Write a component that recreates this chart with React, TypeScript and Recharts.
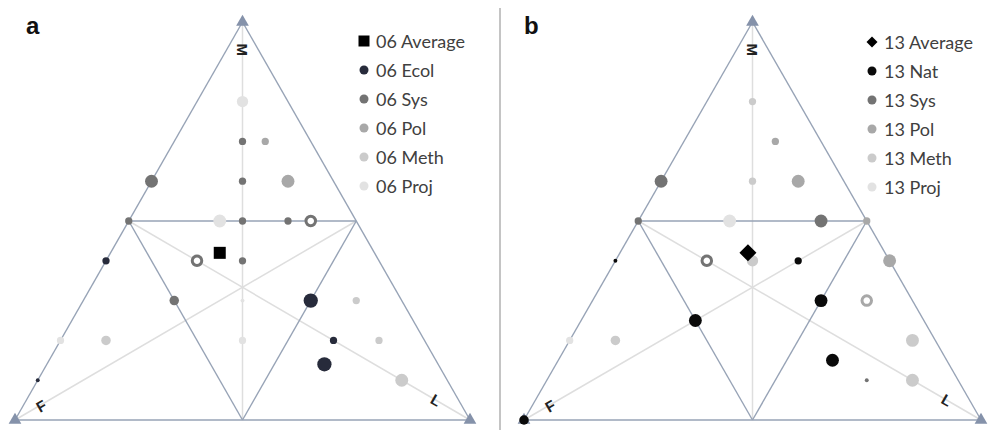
import React from 'react';
import {
  ScatterChart,
  Scatter,
  XAxis,
  YAxis,
  ZAxis,
  ReferenceLine,
  ReferenceDot,
  Legend,
} from 'recharts';

// ternary points: m = M share, l = L share (F = 1 - m - l), n = bubble size class
type Pt = { m: number; l: number; n: number };

// panel a (2006)
const avgA: Pt[] = [{ m: 0.42, l: 0.24, n: 1 }];
const ecolA: Pt[] = [
  { m: 0.4, l: 0, n: 2 },
  { m: 0.3, l: 0.5, n: 6 },
  { m: 0.2, l: 0.6, n: 2 },
  { m: 0.14, l: 0.61, n: 6 },
  { m: 0.1, l: 0, n: 1 },
];
const sysA: Pt[] = [
  { m: 0.6, l: 0, n: 5 },
  { m: 0.7, l: 0.15, n: 2 },
  { m: 0.6, l: 0.2, n: 2 },
  { m: 0.5, l: 0, n: 2 },
  { m: 0.5, l: 0.25, n: 2 },
  { m: 0.5, l: 0.35, n: 2 },
  { m: 0.4, l: 0.3, n: 2 },
  { m: 0.3, l: 0.2, n: 3 },
];
const sysRingA: Pt[] = [
  { m: 0.5, l: 0.4, n: 3 },
  { m: 0.4, l: 0.2, n: 3 },
];
const polA: Pt[] = [
  { m: 0.7, l: 0.2, n: 2 },
  { m: 0.6, l: 0.3, n: 5 },
];
const methA: Pt[] = [
  { m: 0.3, l: 0.6, n: 2 },
  { m: 0.2, l: 0.1, n: 3 },
  { m: 0.2, l: 0.7, n: 2 },
  { m: 0.1, l: 0.8, n: 5 },
];
const projA: Pt[] = [
  { m: 0.8, l: 0.1, n: 4 },
  { m: 0.5, l: 0.2, n: 5 },
  { m: 0.3, l: 0.35, n: 1 },
  { m: 0.2, l: 0, n: 2 },
  { m: 0.2, l: 0.4, n: 2 },
];

// panel b (2013)
const avgB: Pt[] = [{ m: 0.42, l: 0.28, n: 1 }];
const natB: Pt[] = [
  { m: 0.4, l: 0.4, n: 2 },
  { m: 0.4, l: 0, n: 1 },
  { m: 0.3, l: 0.5, n: 5 },
  { m: 0.25, l: 0.25, n: 5 },
  { m: 0.15, l: 0.6, n: 5 },
  { m: 0, l: 0, n: 3 },
];
const sysB: Pt[] = [
  { m: 0.6, l: 0, n: 5 },
  { m: 0.5, l: 0, n: 2 },
  { m: 0.5, l: 0.4, n: 5 },
  { m: 0.1, l: 0.7, n: 1 },
];
const sysRingB: Pt[] = [{ m: 0.4, l: 0.2, n: 3 }];
const polB: Pt[] = [
  { m: 0.7, l: 0.2, n: 2 },
  { m: 0.6, l: 0.3, n: 5 },
  { m: 0.5, l: 0.5, n: 2 },
  { m: 0.4, l: 0.6, n: 5 },
];
const polRingB: Pt[] = [{ m: 0.3, l: 0.6, n: 3 }];
const methB: Pt[] = [
  { m: 0.8, l: 0.1, n: 2 },
  { m: 0.6, l: 0.2, n: 2 },
  { m: 0.4, l: 0.3, n: 4 },
  { m: 0.2, l: 0.1, n: 3 },
  { m: 0.2, l: 0.75, n: 5 },
  { m: 0.1, l: 0.8, n: 5 },
];
const projB: Pt[] = [
  { m: 0.5, l: 0.2, n: 5 },
  { m: 0.2, l: 0, n: 2 },
];

// triangle frame (ternary corners and edge midpoints)
const corners: Pt[] = [
  { m: 1, l: 0, n: 1 },
  { m: 0, l: 0, n: 1 },
  { m: 0, l: 1, n: 1 },
];
const mids: Pt[] = [
  { m: 0.5, l: 0, n: 1 }, // M-F
  { m: 0.5, l: 0.5, n: 1 }, // M-L
  { m: 0, l: 0.5, n: 1 }, // F-L
];
const cornerLabels = [
  { text: 'M', m: 0.93, l: 0.035, rot: 90 },
  { text: 'F', m: 0.035, l: 0.04, rot: -30 },
  { text: 'L', m: 0.05, l: 0.9, rot: 30 },
];

const C = {
  ecol: '#272b3b',
  nat: '#0a0a0a',
  sys: '#737373',
  pol: '#a8a8a8',
  meth: '#cbcbcb',
  proj: '#e2e2e2',
  frame: '#97a3b6',
  median: '#dedede',
};

const xy = (pts: Pt[]) => pts.map((p) => ({ x: p.l + p.m / 2, y: p.m, n: p.n }));
const pos = (p: { m: number; l: number }) => ({ x: p.l + p.m / 2, y: p.m });

const VertexLabel = (props: any) => {
  const { viewBox, text, rot } = props;
  const cx = viewBox.x + viewBox.width / 2;
  const cy = viewBox.y + viewBox.height / 2;
  return (
    <g transform={`translate(${cx}, ${cy}) rotate(${rot})`}>
      <text
        x={0}
        y={0}
        textAnchor="middle"
        dominantBaseline="central"
        fontFamily="Liberation Sans, Arial, sans-serif"
        fontWeight="bold"
        fontSize={15}
        fill="#222"
      >
        {text}
      </text>
    </g>
  );
};

// average marker: square, or the same square turned 45 degrees
const avgShape = (kind: 'square' | 'diamond') => (props: any) => {
  const { cx, cy } = props;
  const s = 12;
  return (
    <rect
      x={cx - s / 2}
      y={cy - s / 2}
      width={s}
      height={s}
      fill="#000"
      transform={kind === 'diamond' ? `rotate(45, ${cx}, ${cy})` : undefined}
    />
  );
};

type LegendItem = { name: string; color: string; shape: 'square' | 'circle' | 'diamond' };

const LegendBox = ({ items }: { items: LegendItem[] }) => (
  <div style={{ fontFamily: 'Lato, sans-serif', fontSize: 18, color: '#404040' }}>
    {items.map((it) => (
      <div key={it.name} style={{ display: 'flex', alignItems: 'center', height: 29 }}>
        <svg width={12} height={12} style={{ marginRight: 6 }}>
          {it.shape === 'square' && <rect x={0.5} y={0.5} width={11} height={11} fill={it.color} />}
          {it.shape === 'circle' && <circle cx={6} cy={6} r={4.5} fill={it.color} />}
          {it.shape === 'diamond' && <path d="M6 0.5 L11.5 6 L6 11.5 L0.5 6 Z" fill={it.color} />}
        </svg>
        <span>{it.name}</span>
      </div>
    ))}
  </div>
);

const legendA: LegendItem[] = [
  { name: '06 Average', color: '#000', shape: 'square' },
  { name: '06 Ecol', color: C.ecol, shape: 'circle' },
  { name: '06 Sys', color: C.sys, shape: 'circle' },
  { name: '06 Pol', color: C.pol, shape: 'circle' },
  { name: '06 Meth', color: C.meth, shape: 'circle' },
  { name: '06 Proj', color: C.proj, shape: 'circle' },
];
const legendB: LegendItem[] = [
  { name: '13 Average', color: '#000', shape: 'diamond' },
  { name: '13 Nat', color: C.nat, shape: 'circle' },
  { name: '13 Sys', color: C.sys, shape: 'circle' },
  { name: '13 Pol', color: C.pol, shape: 'circle' },
  { name: '13 Meth', color: C.meth, shape: 'circle' },
  { name: '13 Proj', color: C.proj, shape: 'circle' },
];

function frame() {
  const seg = (a: Pt, b: Pt) => [pos(a), pos(b)] as any;
  const [M, F, L] = corners;
  const [MF, ML, FL] = mids;
  const medians = [
    [M, FL],
    [F, ML],
    [L, MF],
  ];
  const edges = [
    [M, F],
    [F, L],
    [L, M],
    [MF, ML],
    [ML, FL],
    [FL, MF],
  ];
  return [
    ...medians.map(([a, b], i) => (
      <ReferenceLine key={'md' + i} segment={seg(a, b)} stroke={C.median} strokeWidth={1.5} ifOverflow="visible" />
    )),
    ...edges.map(([a, b], i) => (
      <ReferenceLine key={'ed' + i} segment={seg(a, b)} stroke={C.frame} strokeWidth={1.4} ifOverflow="visible" />
    )),
  ];
}

interface PanelProps {
  left: number;
  margin: { top: number; right: number; bottom: number; left: number };
  series: { name: string; data: Pt[]; color: string; ring?: boolean }[];
  avg: Pt[];
  avgKind: 'square' | 'diamond';
  legend: LegendItem[];
  legendPos: { left: number; top: number };
}

function Panel({ left, margin, series, avg, avgKind, legend, legendPos }: PanelProps) {
  return (
    <div style={{ position: 'absolute', left, top: 0 }}>
      <ScatterChart width={496} height={430} margin={margin}>
        <XAxis type="number" dataKey="x" domain={[0, 1]} hide />
        <YAxis type="number" dataKey="y" domain={[0, 1]} hide />
        <ZAxis type="number" dataKey="n" domain={[1, 6]} range={[12, 160]} />
        <ZAxis zAxisId="vert" type="number" dataKey="n" range={[70, 70]} />
        {frame()}
        <Scatter
          data={xy(corners)}
          zAxisId="vert"
          shape="triangle"
          fill="#8592aa"
          legendType="none"
          isAnimationActive={false}
        />
        {series.map((s) => (
          <Scatter
            key={s.name}
            name={s.name}
            data={xy(s.data)}
            fill={s.ring ? '#fff' : s.color}
            stroke={s.ring ? s.color : 'none'}
            strokeWidth={s.ring ? 3 : 0}
            legendType="none"
            isAnimationActive={false}
          />
        ))}
        <Scatter data={xy(avg)} shape={avgShape(avgKind)} legendType="none" isAnimationActive={false} />
        {cornerLabels.map((c) => (
          <ReferenceDot
            key={c.text}
            {...pos(c)}
            r={1}
            fill="none"
            stroke="none"
            ifOverflow="visible"
            label={<VertexLabel text={c.text} rot={c.rot} />}
          />
        ))}
        <Legend
          layout="vertical"
          align="center"
          verticalAlign="middle"
          wrapperStyle={{ left: legendPos.left, top: legendPos.top, width: 130 }}
          content={() => <LegendBox items={legend} />}
        />
      </ScatterChart>
    </div>
  );
}

const panelLetter: React.CSSProperties = {
  position: 'absolute',
  top: 12,
  fontFamily: 'Liberation Sans, Arial, sans-serif',
  fontWeight: 'bold',
  fontSize: 24,
  color: '#111',
};

export default function App() {
  return (
    <div style={{ position: 'absolute', left: 0, top: 0, width: 992, height: 430, background: '#fff' }}>
      <Panel
        left={0}
        margin={{ top: 22, right: 26, bottom: 10, left: 15 }}
        avg={avgA}
        avgKind="square"
        legend={legendA}
        legendPos={{ left: 358, top: 26 }}
        series={[
          { name: 'Proj', data: projA, color: C.proj },
          { name: 'Meth', data: methA, color: C.meth },
          { name: 'Pol', data: polA, color: C.pol },
          { name: 'Sys', data: sysA, color: C.sys },
          { name: 'SysRing', data: sysRingA, color: C.sys, ring: true },
          { name: 'Ecol', data: ecolA, color: C.ecol },
        ]}
      />
      <Panel
        left={496}
        margin={{ top: 22, right: 11, bottom: 10, left: 28 }}
        avg={avgB}
        avgKind="diamond"
        legend={legendB}
        legendPos={{ left: 370, top: 27 }}
        series={[
          { name: 'Proj', data: projB, color: C.proj },
          { name: 'Meth', data: methB, color: C.meth },
          { name: 'Pol', data: polB, color: C.pol },
          { name: 'PolRing', data: polRingB, color: C.pol, ring: true },
          { name: 'Sys', data: sysB, color: C.sys },
          { name: 'SysRing', data: sysRingB, color: C.sys, ring: true },
          { name: 'Nat', data: natB, color: C.nat },
        ]}
      />
      <div style={{ ...panelLetter, left: 26 }}>a</div>
      <div style={{ ...panelLetter, left: 524 }}>b</div>
      <div style={{ position: 'absolute', left: 499, top: 8, width: 2, height: 422, background: '#c4c4c4' }} />
    </div>
  );
}
